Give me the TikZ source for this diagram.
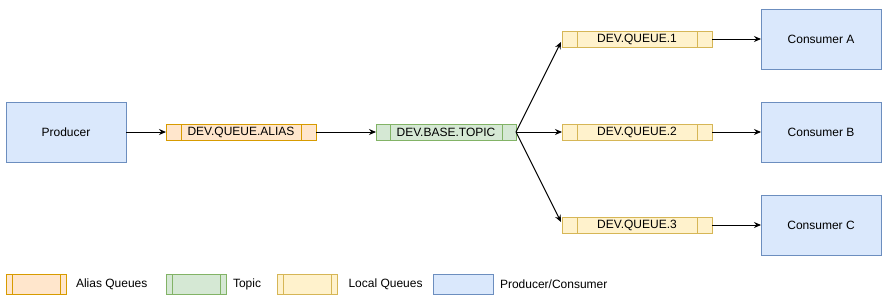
\documentclass[tikz,border=0pt]{standalone}
\usepackage{fontspec}
\setmainfont{Liberation Sans}
\usepackage{tikz}
\usetikzlibrary{arrows.meta,positioning,calc}
\usepackage{xcolor}

\definecolor{aliasfill}{HTML}{FFE6CC}
\definecolor{aliasline}{HTML}{D79B00}
\definecolor{topicfill}{HTML}{D5E8D4}
\definecolor{topicline}{HTML}{82B366}
\definecolor{localfill}{HTML}{FFF2CC}
\definecolor{localline}{HTML}{D6B656}
\definecolor{appfill}{HTML}{DAE8FC}
\definecolor{appline}{HTML}{6C8EBF}

\begin{document}
\begin{tikzpicture}[
x=1pt, y=-1pt,
font=\fontsize{12}{14}\selectfont,
every node/.style={inner sep=0pt, outer sep=0pt, line width=1pt},
appbox/.style={rectangle, draw=appline, fill=appfill, minimum width=120pt, minimum height=60pt},
qbox/.style n args={4}{rectangle, draw=#1, fill=#2, minimum width=#3, minimum height=16pt,
  path picture={
    \draw[#1, line width=1pt] ([xshift=#4]path picture bounding box.north west) -- ([xshift=#4]path picture bounding box.south west);
    \draw[#1, line width=1pt] ([xshift=-#4]path picture bounding box.north east) -- ([xshift=-#4]path picture bounding box.south east);
  }},
aliasq/.style={qbox={aliasline}{aliasfill}{150pt}{15pt}},
topicq/.style={qbox={topicline}{topicfill}{140pt}{14pt}},
localq/.style={qbox={localline}{localfill}{150pt}{15pt}},
keybox/.style={qbox={#1line}{#1fill}{60pt}{6pt}, minimum height=20pt},
flow/.style={-{Stealth[length=7pt, width=6pt]}, line width=1pt, black},
]
\useasboundingbox (0,0) rectangle (893,303);

% producer and consumers
\node[appbox] (producer) at (66,132) {Producer};
\node[appbox] (consA) at (821,39) {Consumer A};
\node[appbox] (consB) at (821,132) {Consumer B};
\node[appbox] (consC) at (821,225) {Consumer C};

% queues and topic
\node[aliasq] (alias) at (241,132) {DEV.QUEUE.ALIAS};
\node[topicq] (topic) at (446,132) {DEV.BASE.TOPIC};
\node[localq] (q1) at (637,39) {DEV.QUEUE.1};
\node[localq] (q2) at (637,132) {DEV.QUEUE.2};
\node[localq] (q3) at (637,225) {DEV.QUEUE.3};

\draw[flow] (producer) -- (alias);
\draw[flow] (alias) -- (topic);
\draw[flow] (topic.east) -- ([shift={(-1,-5)}]q1.south west);
\draw[flow] (topic.east) -- (q2.west);
\draw[flow] (topic.east) -- ([shift={(-1,5)}]q3.north west);
\draw[flow] (q1) -- (consA);
\draw[flow] (q2) -- (consB);
\draw[flow] (q3) -- (consC);

% legend
\node[keybox=alias] (keyalias) at (36,284) {};
\node[anchor=west] (txtalias) at (76,284) {Alias Queues};
\node[keybox=topic] (keytopic) at (196.7,284) {};
\node[anchor=west] (txttopic) at (233,284) {Topic};
\node[keybox=local] (keylocal) at (307.7,284) {};
\node[anchor=west] (txtlocal) at (348.5,284) {Local Queues};
\node[appbox, minimum width=60pt, minimum height=20pt] (keyapp) at (463.3,284) {};
\node[anchor=west] (txtapp) at (500,284) {Producer/Consumer};

%\draw[red] (0,0) -- (893,303);
\end{tikzpicture}
\end{document}
